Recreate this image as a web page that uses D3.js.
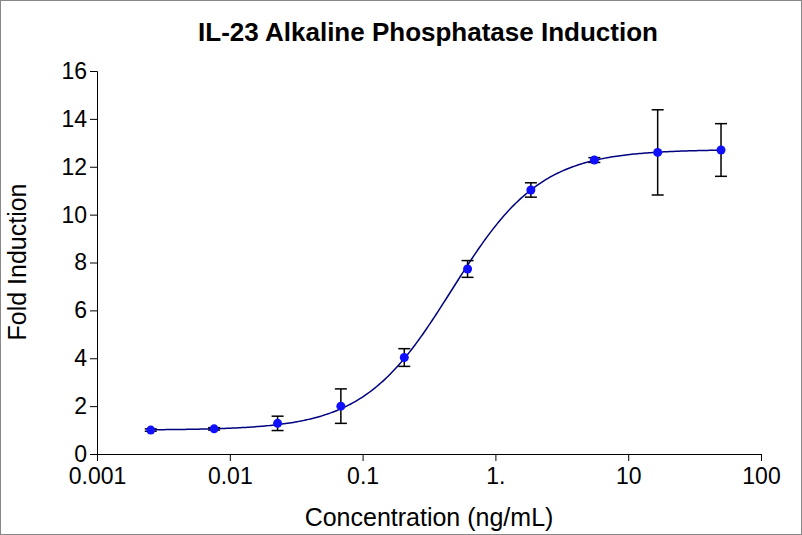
<!DOCTYPE html><html><head><meta charset="utf-8">
<script src="https://cdn.jsdelivr.net/npm/d3@7"></script>
<style>body{margin:0;background:#fff}svg{display:block;font-family:"Liberation Sans",Arial,sans-serif}</style>
</head><body><svg id="c" width="802" height="535"></svg>
<script>
const conc=[0.00254,0.00762,0.0229,0.0686,0.206,0.617,1.85,5.56,16.67,50];
const fold=[1.0,1.05,1.28,2.0,4.03,7.73,11.03,12.28,12.6,12.7];
const err=[0.05,0.05,0.3,0.72,0.37,0.35,0.3,0.1,1.78,1.1];
const fitParams={bottom:1.0,top:12.72,ec50:0.47,hill:1.3};
const xTicks=[0.001,0.01,0.1,1,10,100];
const xTickLabels=["0.001","0.01","0.1","1.","10","100"];
const yTicks=[0,2,4,6,8,10,12,14,16];

const svg=d3.select("#c");
svg.append("rect").attr("x",0.5).attr("y",0.5).attr("width",801).attr("height",534).attr("fill","#fff").attr("stroke","#888");
const x=d3.scaleLog().domain([0.001,100]).range([97,761]);
const y=d3.scaleLinear().domain([0,16]).range([454,71]);
const fs=23;
svg.append("g").attr("transform","translate(0,454)").call(d3.axisBottom(x).tickValues(xTicks).tickFormat((d,i)=>xTickLabels[i]).tickSizeOuter(0).tickSize(7))
 .call(g=>{g.selectAll("text").attr("font-size",fs).attr("fill","#000").attr("dy","0.85em");g.selectAll("line,path").attr("stroke","#000");});
svg.append("g").attr("transform","translate(97,0)").call(d3.axisLeft(y).tickValues(yTicks).tickSizeOuter(0).tickSize(7))
 .call(g=>{g.selectAll("text").attr("font-size",fs).attr("fill","#000");g.selectAll("line,path").attr("stroke","#000");});
svg.append("text").attr("x",428).attr("y",41).attr("text-anchor","middle").attr("font-weight","bold").attr("font-size",26).text("IL-23 Alkaline Phosphatase Induction");
svg.append("text").attr("x",429).attr("y",526).attr("text-anchor","middle").attr("font-size",25).text("Concentration (ng/mL)");
svg.append("text").attr("transform","translate(26,262) rotate(-90)").attr("text-anchor","middle").attr("font-size",25).text("Fold Induction");
const p=fitParams;
const xs=d3.range(0,301).map(i=>Math.pow(10,Math.log10(conc[0])+i/300*(Math.log10(50)-Math.log10(conc[0]))));
svg.append("path").attr("d",d3.line().x(d=>x(d)).y(d=>y(p.bottom+(p.top-p.bottom)/(1+Math.pow(p.ec50/d,p.hill))))(xs)).attr("fill","none").attr("stroke","#000080").attr("stroke-width",1.5);
const g=svg.append("g");
conc.forEach((c,i)=>{
 const cx=x(c),y1=y(fold[i]+err[i]),y2=y(fold[i]-err[i]);
 g.append("line").attr("x1",cx).attr("x2",cx).attr("y1",y1).attr("y2",y2).attr("stroke","#000").attr("stroke-width",1.5);
 [y1,y2].forEach(yy=>g.append("line").attr("x1",cx-6).attr("x2",cx+6).attr("y1",yy).attr("y2",yy).attr("stroke","#000").attr("stroke-width",1.5));
 g.append("circle").attr("cx",cx).attr("cy",y(fold[i])).attr("r",4.5).attr("fill","#1010ff");
});
</script></body></html>
